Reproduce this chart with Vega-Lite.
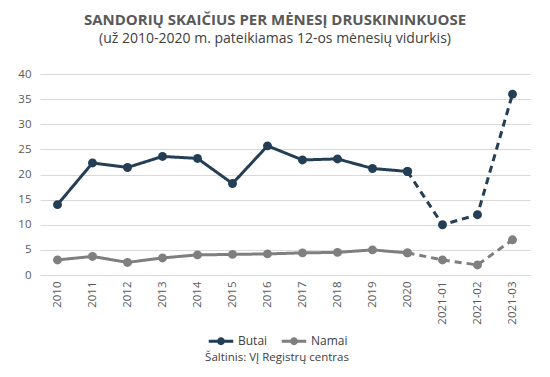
{
  "$schema": "https://vega.github.io/schema/vega-lite/v6.json",
  "autosize": {"type": "none"},
  "width": 490,
  "height": 201,
  "padding": {"left": 40, "top": 74, "right": 20, "bottom": 102},
  "background": "white",
  "config": {
    "font": "Open Sans",
    "view": {"stroke": null},
    "axis": {"labelFont": "Open Sans", "labelColor": "#595959", "labelFontSize": 11.5, "domain": false, "ticks": false}
  },
  "title": {
    "text": "SANDORIŲ SKAIČIUS PER MĖNESĮ DRUSKININKUOSE",
    "subtitle": "(už 2010-2020 m. pateikiamas 12-os mėnesių vidurkis)",
    "anchor": "middle",
    "dx": -10,
    "offset": 22,
    "font": "Open Sans",
    "fontSize": 15,
    "fontWeight": "bold",
    "color": "#595959",
    "subtitleFont": "Open Sans",
    "subtitleFontSize": 14,
    "subtitleColor": "#404040",
    "subtitlePadding": 4
  },
  "data": {
    "values": [
      {"s": "Butai", "p": "2010", "v": 14.0, "seg": "a"},
      {"s": "Butai", "p": "2011", "v": 22.3, "seg": "a"},
      {"s": "Butai", "p": "2012", "v": 21.4, "seg": "a"},
      {"s": "Butai", "p": "2013", "v": 23.6, "seg": "a"},
      {"s": "Butai", "p": "2014", "v": 23.2, "seg": "a"},
      {"s": "Butai", "p": "2015", "v": 18.2, "seg": "a"},
      {"s": "Butai", "p": "2016", "v": 25.7, "seg": "a"},
      {"s": "Butai", "p": "2017", "v": 22.9, "seg": "a"},
      {"s": "Butai", "p": "2018", "v": 23.1, "seg": "a"},
      {"s": "Butai", "p": "2019", "v": 21.2, "seg": "a"},
      {"s": "Butai", "p": "2020", "v": 20.6, "seg": "a"},
      {"s": "Butai", "p": "2020", "v": 20.6, "seg": "b"},
      {"s": "Butai", "p": "2021-01", "v": 10.0, "seg": "b"},
      {"s": "Butai", "p": "2021-02", "v": 12.0, "seg": "b"},
      {"s": "Butai", "p": "2021-03", "v": 36.0, "seg": "b"},
      {"s": "Namai", "p": "2010", "v": 3.0, "seg": "a"},
      {"s": "Namai", "p": "2011", "v": 3.7, "seg": "a"},
      {"s": "Namai", "p": "2012", "v": 2.5, "seg": "a"},
      {"s": "Namai", "p": "2013", "v": 3.4, "seg": "a"},
      {"s": "Namai", "p": "2014", "v": 4.0, "seg": "a"},
      {"s": "Namai", "p": "2015", "v": 4.1, "seg": "a"},
      {"s": "Namai", "p": "2016", "v": 4.2, "seg": "a"},
      {"s": "Namai", "p": "2017", "v": 4.4, "seg": "a"},
      {"s": "Namai", "p": "2018", "v": 4.5, "seg": "a"},
      {"s": "Namai", "p": "2019", "v": 5.0, "seg": "a"},
      {"s": "Namai", "p": "2020", "v": 4.4, "seg": "a"},
      {"s": "Namai", "p": "2020", "v": 4.4, "seg": "b"},
      {"s": "Namai", "p": "2021-01", "v": 3.0, "seg": "b"},
      {"s": "Namai", "p": "2021-02", "v": 2.0, "seg": "b"},
      {"s": "Namai", "p": "2021-03", "v": 7.0, "seg": "b"}
    ]
  },
  "encoding": {
    "x": {
      "field": "p", "type": "ordinal", "sort": null,
      "scale": {"paddingInner": 0, "paddingOuter": 0.5},
      "axis": {"title": null, "labelAngle": -90, "labelPadding": 6, "grid": false}
    },
    "y": {
      "field": "v", "type": "quantitative",
      "scale": {"domain": [0, 40]},
      "axis": {"title": null, "values": [0, 5, 10, 15, 20, 25, 30, 35, 40], "grid": true, "gridColor": "#d9d9d9", "gridWidth": 1, "labelPadding": 9}
    },
    "color": {
      "field": "s", "type": "nominal",
      "scale": {"domain": ["Butai", "Namai"], "range": ["#243f55", "#7f7f7f"]}
    }
  },
  "layer": [
    {
      "mark": {"type": "line", "strokeWidth": 3},
      "encoding": {
        "detail": {"field": "seg"},
        "strokeDash": {
          "field": "seg", "type": "nominal",
          "scale": {"domain": ["a", "b"], "range": [[1, 0], [7, 5]]},
          "legend": null
        },
        "color": {
          "field": "s", "type": "nominal",
          "scale": {"domain": ["Butai", "Namai"], "range": ["#243f55", "#7f7f7f"]},
          "legend": {
            "orient": "none",
            "legendX": 165,
            "legendY": 253,
            "direction": "horizontal",
            "title": "Šaltinis: VĮ Registrų centras",
            "titleOrient": "bottom",
            "titleAnchor": "middle",
            "titleFontWeight": "normal",
            "titleFontSize": 11.5,
            "titleColor": "#404040",
            "titlePadding": 2,
            "labelFontSize": 12,
            "labelColor": "#404040",
            "labelOffset": 3,
            "symbolType": "M-1,0L1,0M0.2,0A0.2,0.2,0,1,1,-0.2,0A0.2,0.2,0,1,1,0.2,0Z",
            "symbolSize": 600,
            "symbolStrokeWidth": 3,
            "columnPadding": 7,
            "encode": {"symbols": {"update": {"fill": {"scale": "color", "field": "value"}}}}
          }
        }
      }
    },
    {
      "mark": {"type": "circle", "size": 80, "opacity": 1},
      "encoding": {}
    }
  ]
}
